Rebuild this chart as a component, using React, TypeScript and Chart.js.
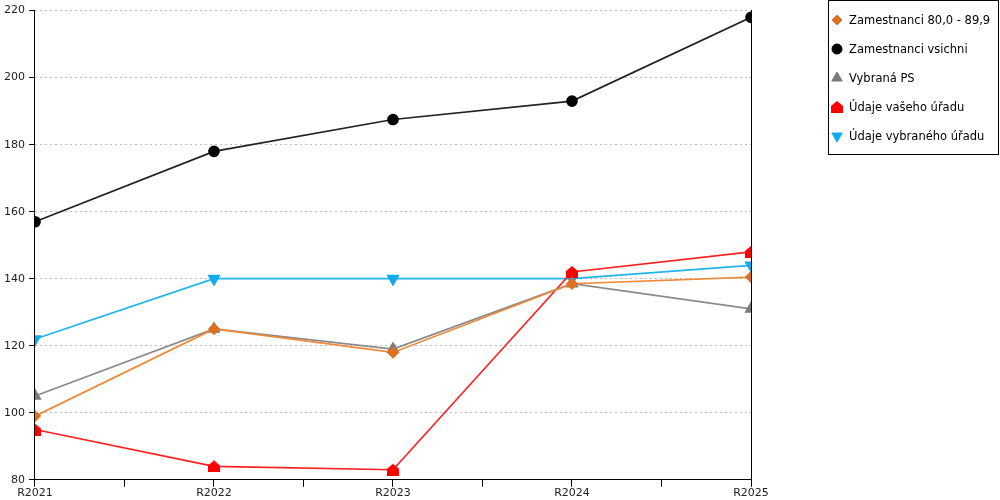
import { useEffect, useRef } from 'react'
import Chart from 'chart.js/auto'
import { drawPoint } from 'chart.js/helpers'

const years = ['R2021', 'R2022', 'R2023', 'R2024', 'R2025']

const zamestnanci80 = [99, 125, 118, 138.5, 140.5]
const zamestnanciVsichni = [157, 178, 187.5, 193, 218]
const vybranaPS = [105, 125, 119, 138.5, 131]
const udajeVasehoUradu = [95, 84, 83, 142, 148]
const udajeVybranehoUradu = [122, 140, 140, 140, 144]

const yTicks = [80, 100, 120, 140, 160, 180, 200, 220]

const FONT = 'DejaVu Sans'

// red "house" marker
function makeHouse(color: string): HTMLCanvasElement {
  const c = document.createElement('canvas')
  c.width = 12
  c.height = 12
  const ctx = c.getContext('2d')!
  ctx.fillStyle = color
  ctx.beginPath()
  ctx.moveTo(6, 0)
  ctx.lineTo(12, 5)
  ctx.lineTo(12, 12)
  ctx.lineTo(0, 12)
  ctx.lineTo(0, 5)
  ctx.closePath()
  ctx.fill()
  return c
}

const toPoints = (values: number[]) => values.map((v, i) => ({ x: i, y: v }))

// legend drawn by hand so it can sit in a bordered box
const boxLegend = {
  id: 'boxLegend',
  afterDraw(chart: any) {
    const ctx = chart.ctx
    const left = chart.chartArea.right + 77
    const right = chart.width - 2
    ctx.save()
    ctx.strokeStyle = '#000'
    ctx.lineWidth = 1
    ctx.strokeRect(left + 0.5, 0.5, right - left, 154)
    ctx.font = `11.5px "${FONT}"`
    ctx.textBaseline = 'middle'
    ctx.textAlign = 'left'
    chart.data.datasets.forEach((ds: any, i: number) => {
      const y = 20 + i * 29
      ctx.fillStyle = ds.backgroundColor
      ctx.strokeStyle = ds.pointBorderColor || ds.backgroundColor
      ctx.lineWidth = 1
      drawPoint(ctx, {
        pointStyle: ds.pointStyle,
        rotation: ds.pointRotation || 0,
        radius: ds.pointStyle === 'triangle' ? 6 : 5,
        borderWidth: 1,
      } as any, left + 9, y)
      ctx.fillStyle = '#000'
      ctx.fillText(ds.label, left + 21, y + 1)
    })
    ctx.restore()
  }
}

const App = () => {
  const chartRef = useRef<HTMLCanvasElement>(null)
  const chartInstance = useRef<Chart | null>(null)

  useEffect(() => {
    document.body.style.margin = '0'
    if (!chartRef.current) return
    if (chartInstance.current) chartInstance.current.destroy()

    const house = makeHouse('#ff0000')

    chartInstance.current = new Chart(chartRef.current, {
      type: 'line',
      data: {
        datasets: [
          {
            label: 'Zamestnanci 80,0 - 89,9',
            data: toPoints(zamestnanci80),
            borderColor: '#ee8a3a',
            backgroundColor: '#e07020',
            pointBorderColor: '#e07020',
            borderWidth: 1.7,
            pointStyle: 'rectRot',
            pointRadius: 5,
          },
          {
            label: 'Zamestnanci vsichni',
            data: toPoints(zamestnanciVsichni),
            borderColor: '#222222',
            backgroundColor: '#000000',
            pointBorderColor: '#000000',
            borderWidth: 1.7,
            pointStyle: 'circle',
            pointRadius: 5,
          },
          {
            label: 'Vybraná PS',
            data: toPoints(vybranaPS),
            borderColor: '#8a8a8a',
            backgroundColor: '#7a7a7a',
            pointBorderColor: '#7a7a7a',
            borderWidth: 1.7,
            pointStyle: 'triangle',
            pointRadius: 6,
          },
          {
            label: 'Údaje vašeho úřadu',
            data: toPoints(udajeVasehoUradu),
            borderColor: '#ff2020',
            backgroundColor: '#ff0000',
            borderWidth: 1.7,
            pointStyle: house,
          },
          {
            label: 'Údaje vybraného úřadu',
            data: toPoints(udajeVybranehoUradu),
            borderColor: '#1fb4ee',
            backgroundColor: '#10aaf0',
            pointBorderColor: '#10aaf0',
            borderWidth: 1.7,
            pointStyle: 'triangle',
            pointRotation: 180,
            pointRadius: 6,
          },
        ],
      },
      options: {
        animation: false,
        responsive: true,
        maintainAspectRatio: false,
        layout: { padding: { top: 0, left: 0, right: 171, bottom: 0 } },
        plugins: {
          tooltip: { enabled: false },
          legend: { display: false },
        },
        scales: {
          x: {
            type: 'linear',
            min: 0,
            max: years.length - 1,
            border: { color: '#000', width: 1 },
            grid: {
              drawOnChartArea: false,
              tickColor: '#000',
              tickLength: 7,
            },
            ticks: {
              stepSize: 0.5,
              autoSkip: false,
              maxRotation: 0,
              padding: 0,
              color: '#222',
              font: { family: FONT, size: 11 },
              callback: (v: any) => (Number.isInteger(v) ? years[v] : ''),
            },
          },
          y: {
            min: yTicks[0],
            max: yTicks[yTicks.length - 1],
            border: { color: '#000', width: 1, dash: [2, 3] },
            grid: {
              color: '#bdbdbd',
              tickColor: '#000',
              tickBorderDash: [],
              tickLength: 6,
            },
            afterBuildTicks: (scale: any) => {
              scale.ticks = yTicks.map((v) => ({ value: v }))
            },
            ticks: {
              padding: 4,
              color: '#222',
              font: { family: FONT, size: 11 },
            },
          },
          y2: {
            position: 'right',
            min: yTicks[0],
            max: yTicks[yTicks.length - 1],
            border: { color: '#000', width: 1 },
            grid: { display: false },
            ticks: { display: false },
            afterFit: (scale: any) => {
              scale.width = 78
            },
          },
        },
      },
      plugins: [boxLegend],
    })

    return () => {
      if (chartInstance.current) {
        chartInstance.current.destroy()
        chartInstance.current = null
      }
    }
  }, [])

  return (
    <div style={{ width: '1000px', height: '500px', position: 'relative' }}>
      <canvas ref={chartRef}></canvas>
    </div>
  )
}

export default App
